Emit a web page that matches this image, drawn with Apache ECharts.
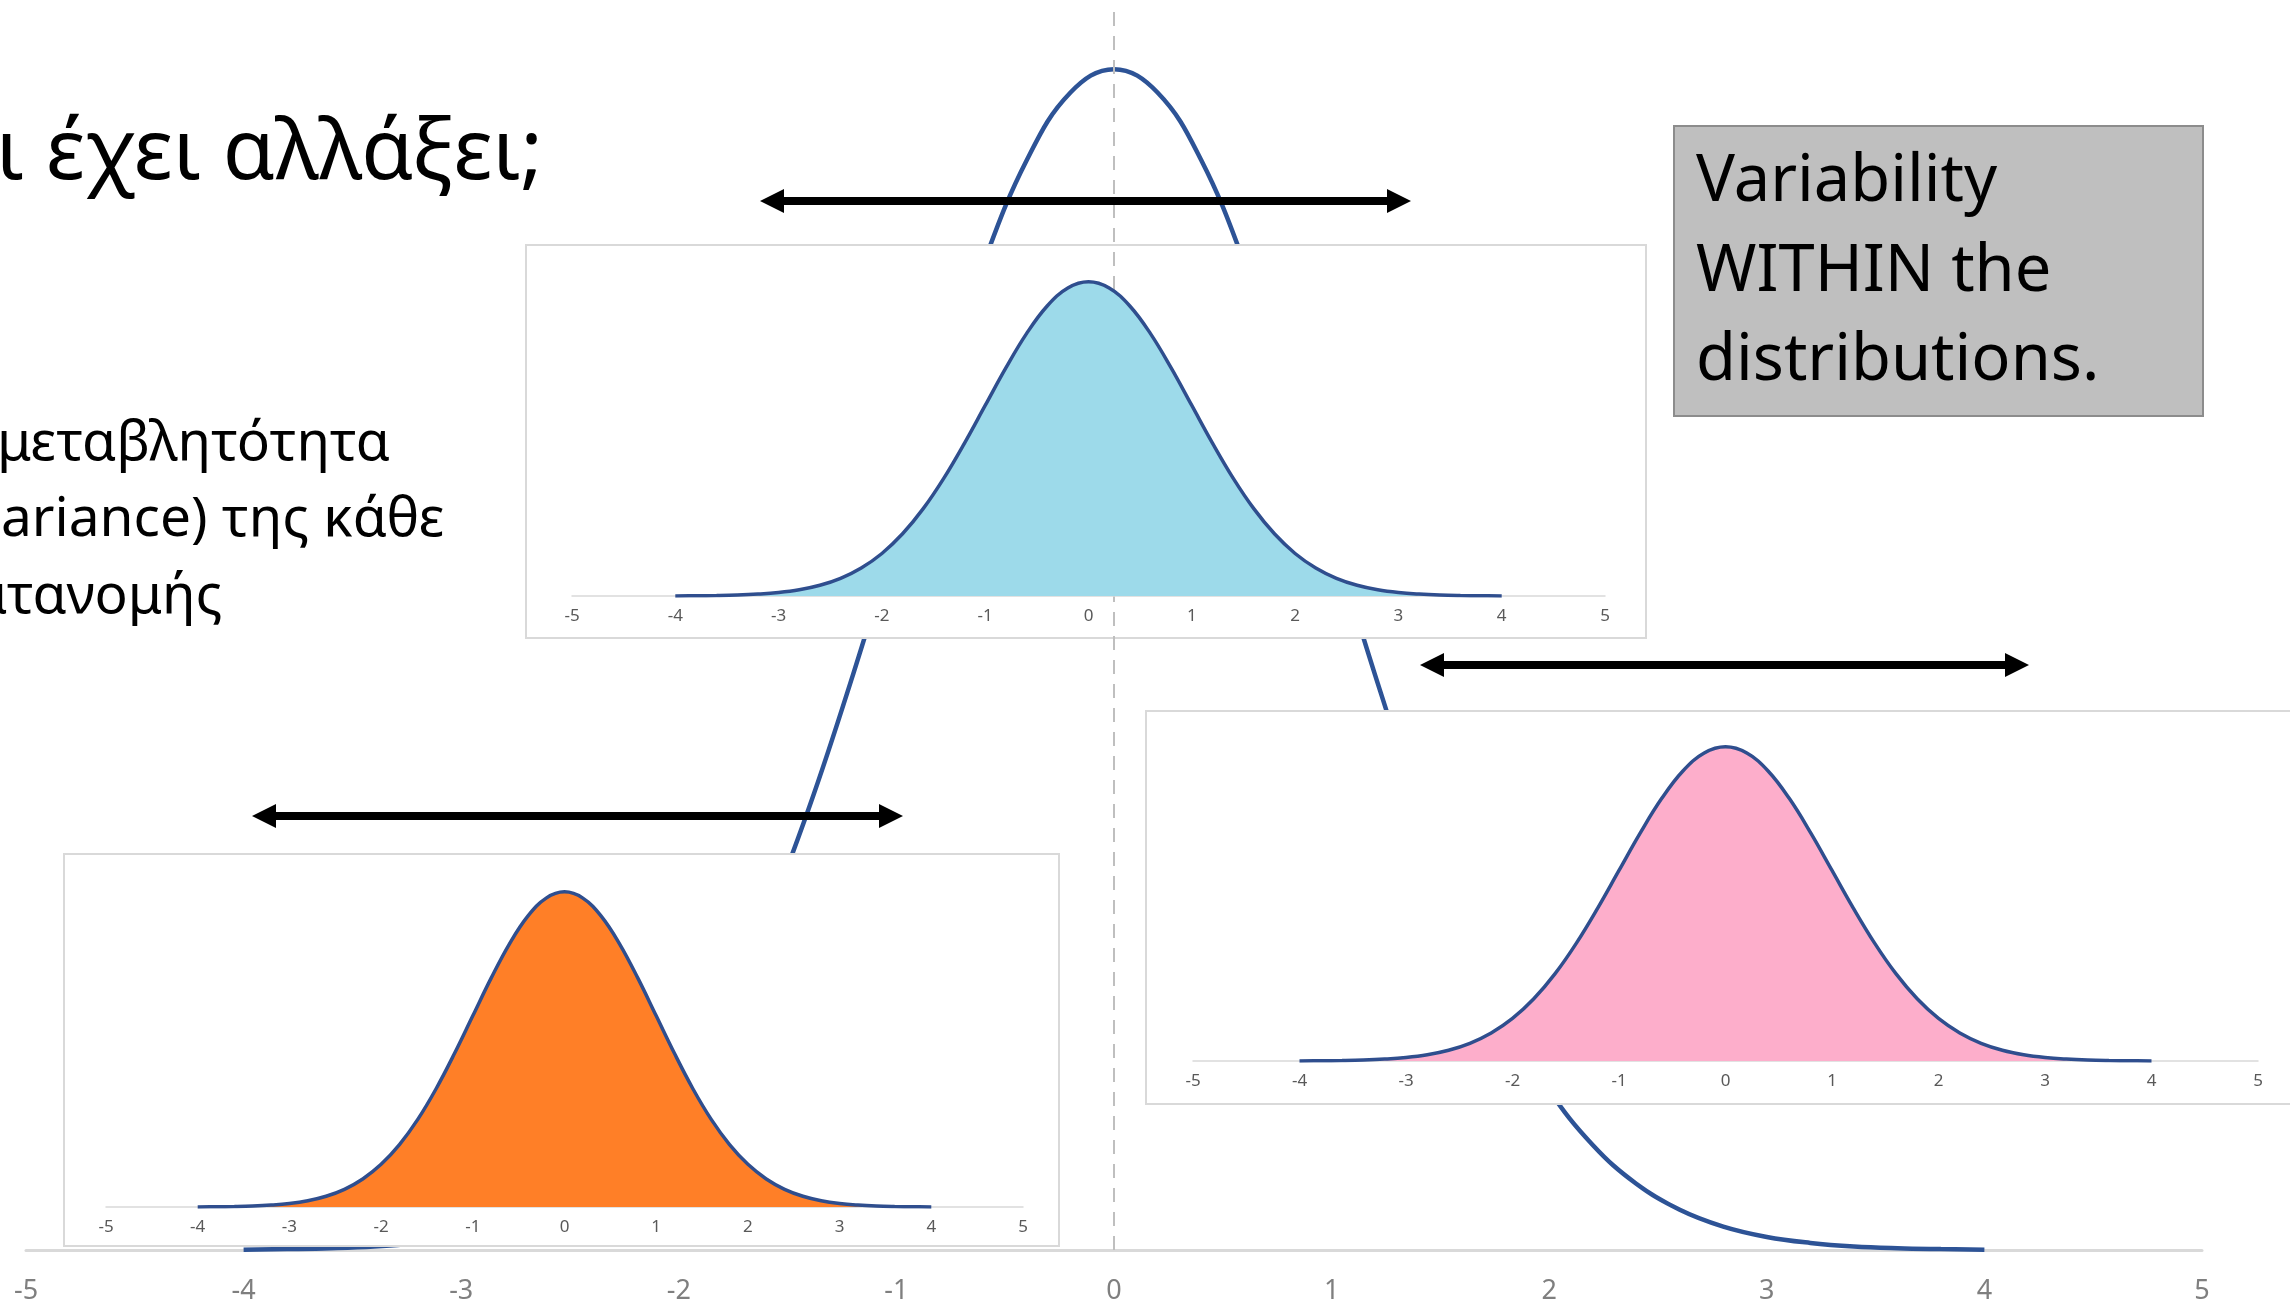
<!DOCTYPE html>
<html><head><meta charset="utf-8">
<style>html,body{margin:0;padding:0;background:#fff;overflow:hidden}#c{width:2290px;height:1309px}</style>
<script src="https://cdn.jsdelivr.net/npm/echarts@6/dist/echarts.min.js"></script>
</head><body><div id="c"></div><script>
// ---- data ----
const xTicks = [-5, -4, -3, -2, -1, 0, 1, 2, 3, 4, 5];
const xPoints = [-4,-3.8,-3.6,-3.4,-3.2,-3,-2.8,-2.6,-2.4,-2.2,-2,-1.8,-1.6,-1.4,-1.2,-1,-0.8,-0.6,-0.4,-0.2,0,
  0.2,0.4,0.6,0.8,1,1.2,1.4,1.6,1.8,2,2.2,2.4,2.6,2.8,3,3.2,3.4,3.6,3.8,4];
const mainCurve = [0.0001,0.0003,0.0006,0.0012,0.0024,0.0044,0.0079,0.0136,0.0224,0.0355,0.0540,0.0790,0.1109,0.1497,0.1942,0.2420,0.2897,0.3332,0.3683,0.3910,0.3989,
  0.3910,0.3683,0.3332,0.2897,0.2420,0.1942,0.1497,0.1109,0.0790,0.0540,0.0355,0.0224,0.0136,0.0079,0.0044,0.0024,0.0012,0.0006,0.0003,0.0001];
const blueCurve = [0.0001,0.0003,0.0006,0.0012,0.0024,0.0044,0.0079,0.0136,0.0224,0.0355,0.0540,0.0790,0.1109,0.1497,0.1942,0.2420,0.2897,0.3332,0.3683,0.3910,0.3989,
  0.3910,0.3683,0.3332,0.2897,0.2420,0.1942,0.1497,0.1109,0.0790,0.0540,0.0355,0.0224,0.0136,0.0079,0.0044,0.0024,0.0012,0.0006,0.0003,0.0001];
const orangeCurve = [0.0001,0.0003,0.0006,0.0012,0.0024,0.0044,0.0079,0.0136,0.0224,0.0355,0.0540,0.0790,0.1109,0.1497,0.1942,0.2420,0.2897,0.3332,0.3683,0.3910,0.3989,
  0.3910,0.3683,0.3332,0.2897,0.2420,0.1942,0.1497,0.1109,0.0790,0.0540,0.0355,0.0224,0.0136,0.0079,0.0044,0.0024,0.0012,0.0006,0.0003,0.0001];
const pinkCurve = [0.0001,0.0003,0.0006,0.0012,0.0024,0.0044,0.0079,0.0136,0.0224,0.0355,0.0540,0.0790,0.1109,0.1497,0.1942,0.2420,0.2897,0.3332,0.3683,0.3910,0.3989,
  0.3910,0.3683,0.3332,0.2897,0.2420,0.1942,0.1497,0.1109,0.0790,0.0540,0.0355,0.0224,0.0136,0.0079,0.0044,0.0024,0.0012,0.0006,0.0003,0.0001];
const titleText = 'ι έχει αλλάξει;';
const bodyLines = ['μεταβλητότητα', 'ariance) της κάθε', 'ατανομής'];
const boxLines = ['Variability', 'WITHIN the', 'distributions.'];

// ---- helpers ----
const FONT = '"Noto Sans", "DejaVu Sans", sans-serif';
const pairs = (ys) => xPoints.map((x, i) => [x, ys[i]]);

function xAx(gi, fs, margin, lineW, z, color) {
  return {
    type: 'value', gridIndex: gi, min: xTicks[0], max: xTicks[xTicks.length - 1], interval: 1, z: z,
    splitLine: { show: false }, axisTick: { show: false },
    axisLine: { show: true, onZero: false, lineStyle: { color: '#D9D9D9', width: lineW } },
    axisLabel: { show: true, fontSize: fs, color: color, margin: margin, fontFamily: FONT }
  };
}
function yAx(gi, max) { return { type: 'value', gridIndex: gi, min: 0, max: max, show: false }; }
function inset(gi, ys, fill) {
  return {
    type: 'line', xAxisIndex: gi, yAxisIndex: gi, data: pairs(ys), smooth: 0.4, symbol: 'none', z: 7,
    lineStyle: { color: '#2F4E8E', width: 3.5 }, areaStyle: { color: fill, opacity: 1 }
  };
}
function arrow(x1, x2, y) {
  const L = 24, H = 12, t = 4;
  return { type: 'polygon', z: 20, silent: true, shape: { points: [
    [x1, y], [x1 + L, y - H], [x1 + L, y - t], [x2 - L, y - t], [x2 - L, y - H], [x2, y],
    [x2 - L, y + H], [x2 - L, y + t], [x1 + L, y + t], [x1 + L, y + H]] }, style: { fill: '#000' } };
}
function txt(s, x, baseline, fs) {
  return { type: 'text', z: 20, silent: true, x: x, y: baseline - 0.39 * fs,
    style: { text: s, font: fs + 'px ' + FONT, fill: '#000', align: 'left', verticalAlign: 'middle',
      textAlign: 'left', textVerticalAlign: 'middle' } };
}
function box(x, y, w, h, fill, stroke) {
  return { type: 'rect', z: 5, silent: true, shape: { x: x, y: y, width: w, height: h },
    style: { fill: fill, stroke: stroke, lineWidth: 2 } };
}

const chart = echarts.init(document.getElementById('c'), null, { renderer: 'canvas' });
chart.setOption({
  animation: false,
  backgroundColor: '#fff',
  grid: [
    { left: 26, top: 12, width: 2176, height: 1238 },
    { left: 572, top: 281, width: 1033, height: 315 },
    { left: 106, top: 891, width: 917, height: 316 },
    { left: 1193, top: 746, width: 1065, height: 315 }
  ],
  xAxis: [xAx(0, 27, 28, 3, 0, '#7F7F7F'), xAx(1, 17, 12, 1.5, 6, '#595959'), xAx(2, 17, 12, 1.5, 6, '#595959'), xAx(3, 17, 12, 1.5, 6, '#595959')],
  yAxis: [yAx(0, 0.4182), yAx(1, 0.4), yAx(2, 0.4), yAx(3, 0.4)],
  series: [
    { type: 'line', xAxisIndex: 0, yAxisIndex: 0, data: pairs(mainCurve), smooth: 0.4, symbol: 'none', z: 2,
      lineStyle: { color: '#2D5396', width: 4.5 },
      markLine: { silent: true, symbol: ['none', 'none'], label: { show: false },
        lineStyle: { color: '#BFBFBF', type: [14, 10], width: 2 }, data: [{ xAxis: 0 }] } },
    inset(1, blueCurve, '#9DDAEA'),
    inset(2, orangeCurve, '#FF7F27'),
    inset(3, pinkCurve, '#FDAECB')
  ],
  graphic: [
    box(526, 245, 1120, 393, '#fff', '#D9D9D9'),
    box(64, 854, 995, 392, '#fff', '#D9D9D9'),
    box(1146, 711, 1160, 393, '#fff', '#D9D9D9'),
    box(1674, 126, 529, 290, '#BFBFBF', '#8C8C8C'),
    arrow(760, 1411, 201),
    arrow(1420, 2029, 665),
    arrow(252, 903, 816),
    txt(titleText, -4, 188, 84),
    txt(bodyLines[0], -3, 466, 55),
    txt(bodyLines[1], 1, 542, 55),
    txt(bodyLines[2], -27, 619, 55),
    txt(boxLines[0], 1696, 208, 65),
    txt(boxLines[1], 1696, 298, 65),
    txt(boxLines[2], 1696, 387, 65)
  ]
});
</script></body></html>
